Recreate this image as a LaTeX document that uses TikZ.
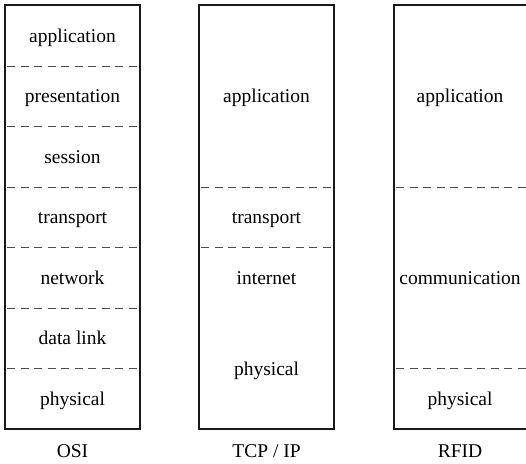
\documentclass[tikz,border=0pt]{standalone}
\usepackage{fontspec}
\setmainfont{Liberation Serif}
\begin{document}
\begin{tikzpicture}[x=1pt,y=-1pt,
  col/.style={draw=black!90, line width=1.2pt, minimum width=135pt, minimum height=424pt, anchor=north west, inner sep=0pt, outer sep=0pt},
  sep/.style={draw=black!70, line width=0.9pt, dash pattern=on 8pt off 5.5pt, dash phase=-2pt},
  lbl/.style={font=\fontsize{19.5}{22}\selectfont, inner sep=0pt, anchor=base}]
\useasboundingbox (0,0) rectangle (526,463);
% row boundaries
\coordinate (r1) at (0,66);
\coordinate (r2) at (0,126.5);
\coordinate (r3) at (0,187);
\coordinate (r4) at (0,247.5);
\coordinate (r5) at (0,308);
\coordinate (r6) at (0,368.5);
% columns
\node[col] (osi) at (5,5) {};
\node[col] (tcp) at (199,5) {};
\node[col] (rfid) at (394,5) {};
% OSI separators
\foreach \r in {r1,r2,r3,r4,r5,r6}
  \draw[sep] (osi.west |- \r) -- (osi.east |- \r);
% TCP/IP separators
\foreach \r in {r3,r4}
  \draw[sep] (tcp.west |- \r) -- (tcp.east |- \r);
% RFID separators
\foreach \r in {r3,r6}
  \draw[sep] (rfid.west |- \r) -- (rfid.east |- \r);
% OSI labels
\node[lbl] (o1) at (72.5,42) {application};
\node[lbl] (o2) at (72.5,102.75) {presentation};
\node[lbl] (o3) at (72.5,163) {session};
\node[lbl] (o4) at (72.5,223.5) {transport};
\node[lbl] (o5) at (72.5,284) {network};
\node[lbl] (o6) at (72.5,344.5) {data link};
\node[lbl] (o7) at (72.5,405) {physical};
% TCP/IP labels
\node[lbl] (t1) at (266.5,102.5) {application};
\node[lbl] (t2) at (266.5,223.5) {transport};
\node[lbl] (t3) at (266.5,284) {internet};
\node[lbl] (t4) at (266.5,375) {physical};
% RFID labels
\node[lbl] (f1) at (460,102.5) {application};
\node[lbl] (f2) at (460,284) {communication};
\node[lbl] (f3) at (460,405) {physical};
% captions
\node[lbl] (c1) at (72.5,457.5) {OSI};
\node[lbl] (c2) at (266.5,457.5) {TCP / IP};
\node[lbl] (c3) at (460,457.5) {RFID};
\end{tikzpicture}
\end{document}
